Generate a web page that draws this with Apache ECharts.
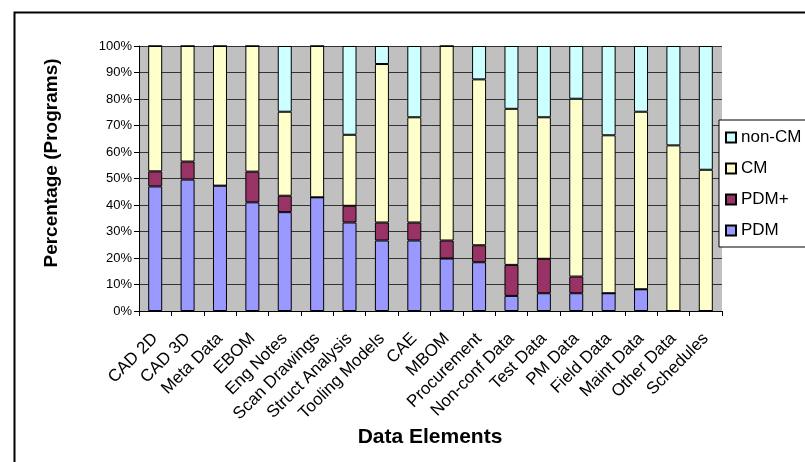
<!DOCTYPE html>
<html>
<head>
<meta charset="utf-8">
<script src="https://cdn.jsdelivr.net/npm/echarts@6/dist/echarts.min.js"></script>
<style>
  html, body { margin: 0; padding: 0; background: #fff; }
  #myChart { width: 805px; height: 462px; }
</style>
</head>
<body>
<div id="myChart"></div>
<script>
const categories = ['CAD 2D', 'CAD 3D', 'Meta Data', 'EBOM', 'Eng Notes', 'Scan Drawings',
  'Struct Analysis', 'Tooling Models', 'CAE', 'MBOM', 'Procurement', 'Non-conf Data',
  'Test Data', 'PM Data', 'Field Data', 'Maint Data', 'Other Data', 'Schedules'];

// percentages of programs per data element
const pdm     = [47.0, 49.6, 47.3, 41.0, 37.3, 42.9, 33.4, 26.6, 26.6, 19.8, 18.4, 5.7, 6.7, 6.7, 6.7, 8.2, 0, 0];
const pdmPlus = [5.7, 6.8, 0, 11.6, 6.2, 0, 6.3, 6.8, 6.8, 6.8, 6.4, 11.7, 13.0, 6.3, 0, 0, 0, 0];
const cm      = [47.3, 43.6, 52.7, 47.4, 31.7, 57.1, 26.8, 59.8, 39.7, 73.4, 62.6, 58.9, 53.4, 67.1, 59.6, 67.0, 62.5, 53.3];
const nonCm   = [0, 0, 0, 0, 24.8, 0, 33.5, 6.8, 26.9, 0, 12.6, 23.7, 26.9, 19.9, 33.7, 24.8, 37.5, 46.7];

const font = 'Liberation Sans, Arial, sans-serif';

const myChart = echarts.init(document.getElementById('myChart'));

function barSeries(name, data, color) {
  return {
    name: name,
    type: 'bar',
    stack: 'total',
    barWidth: 14,
    data: data,
    itemStyle: { color: color, borderColor: '#000', borderWidth: 1 }
  };
}

const option = {
  animation: false,
  textStyle: { fontFamily: font },
  grid: { left: 139, right: 83, top: 46, bottom: 151, show: true, backgroundColor: '#C0C0C0', borderWidth: 0 },
  legend: {
    data: ['non-CM', 'CM', 'PDM+', 'PDM'],
    orient: 'vertical',
    left: 719,
    top: 120,
    icon: 'rect',
    itemWidth: 10,
    itemHeight: 10,
    itemGap: 14,
    padding: [9, 10, 8, 6],
    backgroundColor: '#fff',
    borderColor: '#000',
    borderWidth: 1,
    textStyle: { fontSize: 17, color: '#000', fontFamily: font }
  },
  xAxis: {
    type: 'category',
    data: categories,
    axisLine: { lineStyle: { color: '#000', width: 1 } },
    axisTick: { show: true, length: 5, lineStyle: { color: '#000' } },
    axisLabel: { rotate: 45, interval: 0, margin: 25, fontSize: 17, color: '#000', fontFamily: font }
  },
  yAxis: {
    type: 'value',
    min: 0,
    max: 100,
    interval: 10,
    axisLine: { show: true, lineStyle: { color: '#000', width: 1 } },
    axisTick: { show: true, length: 5, lineStyle: { color: '#000' } },
    axisLabel: { formatter: '{value}%', fontSize: 13, color: '#000', margin: 7, fontFamily: font },
    splitLine: { show: true, lineStyle: { color: '#333', width: 1 } }
  },
  graphic: [
    {
      type: 'rect', left: 12, top: 10, silent: true,
      shape: { width: 800, height: 460 },
      style: { fill: 'none', stroke: '#000', lineWidth: 2 }
    },
    {
      type: 'text', x: 52, y: 163, rotation: Math.PI / 2,
      style: { text: 'Percentage (Programs)', font: 'bold 19px ' + font, fill: '#000', align: 'center', verticalAlign: 'middle' }
    },
    {
      type: 'text', x: 430, y: 437,
      style: { text: 'Data Elements', font: 'bold 21px ' + font, fill: '#000', align: 'center', verticalAlign: 'middle' }
    }
  ],
  series: [
    barSeries('PDM', pdm, '#9999FF'),
    barSeries('PDM+', pdmPlus, '#993366'),
    barSeries('CM', cm, '#FFFFCC'),
    barSeries('non-CM', nonCm, '#CCFFFF')
  ]
};

myChart.setOption(option);
</script>
</body>
</html>
